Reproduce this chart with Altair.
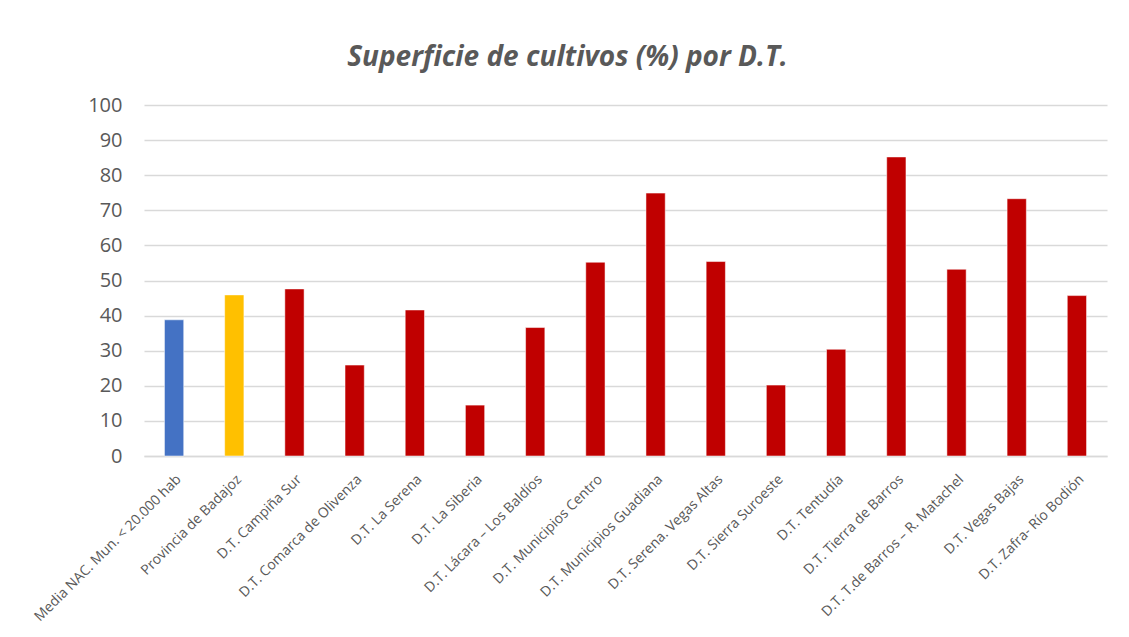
import altair as alt
import pandas as pd

categories = [
    "Media NAC. Mun. < 20.000 hab",
    "Provincia de Badajoz",
    "D.T. Campiña Sur",
    "D.T. Comarca de Olivenza",
    "D.T. La Serena",
    "D.T. La Siberia",
    "D.T. Lácara – Los Baldíos",
    "D.T. Municipios Centro",
    "D.T. Municipios Guadiana",
    "D.T. Serena. Vegas Altas",
    "D.T. Sierra Suroeste",
    "D.T. Tentudía",
    "D.T. Tierra de Barros",
    "D.T. T.de Barros – R. Matachel",
    "D.T. Vegas Bajas",
    "D.T. Zafra- Río Bodión",
]
values = [38.8, 45.9, 47.6, 25.9, 41.6, 14.5, 36.6, 55.2, 74.9, 55.4, 20.2, 30.4, 85.2, 53.2, 73.3, 45.7]
groups = ["nac", "prov"] + ["dt"] * 14
group_domain = ["nac", "prov", "dt"]
group_colors = ["#4472C4", "#FFC000", "#C00000"]

df = pd.DataFrame({"cat": categories, "val": values, "grp": groups})

FONT = "Open Sans"
GRAY = "#595959"

chart = (
    alt.Chart(df)
    .mark_bar(stroke="white", strokeWidth=1, strokeOpacity=0.5)
    .encode(
        x=alt.X(
            "cat:N",
            sort=None,
            title=None,
            scale=alt.Scale(paddingInner=0.68, paddingOuter=0.34),
            axis=alt.Axis(
                labelAngle=-45,
                labelFontSize=14,
                labelColor=GRAY,
                labelFont=FONT,
                labelLimit=300,
                labelPadding=16,
                ticks=False,
                domainColor="#d9d9d9",
                domainWidth=1.5,
                grid=False,
            ),
        ),
        y=alt.Y(
            "val:Q",
            title=None,
            scale=alt.Scale(domain=[0, 100], nice=False),
            axis=alt.Axis(
                values=list(range(0, 101, 10)),
                labelFontSize=20,
                labelColor=GRAY,
                labelFont=FONT,
                labelPadding=22,
                ticks=False,
                domain=False,
                gridColor="#d9d9d9",
                gridWidth=1.5,
            ),
        ),
        color=alt.Color(
            "grp:N",
            scale=alt.Scale(domain=group_domain, range=group_colors),
            legend=None,
        ),
    )
    .properties(
        width=963,
        height=351,
        background="white",
        autosize=alt.AutoSizeParams(type="none"),
        padding={"left": 136, "top": 97, "right": 12, "bottom": 170},
        title=alt.TitleParams(
            "Superficie de cultivos (%) por D.T.",
            font=FONT,
            fontSize=28,
            fontStyle="italic",
            fontWeight="bold",
            color=GRAY,
            anchor="middle",
            offset=23,
            dx=-58,
        ),
    )
    .configure_view(strokeWidth=0, stroke="transparent")
)

chart.save("out.html", embed_options={"renderer": "svg", "actions": False})
